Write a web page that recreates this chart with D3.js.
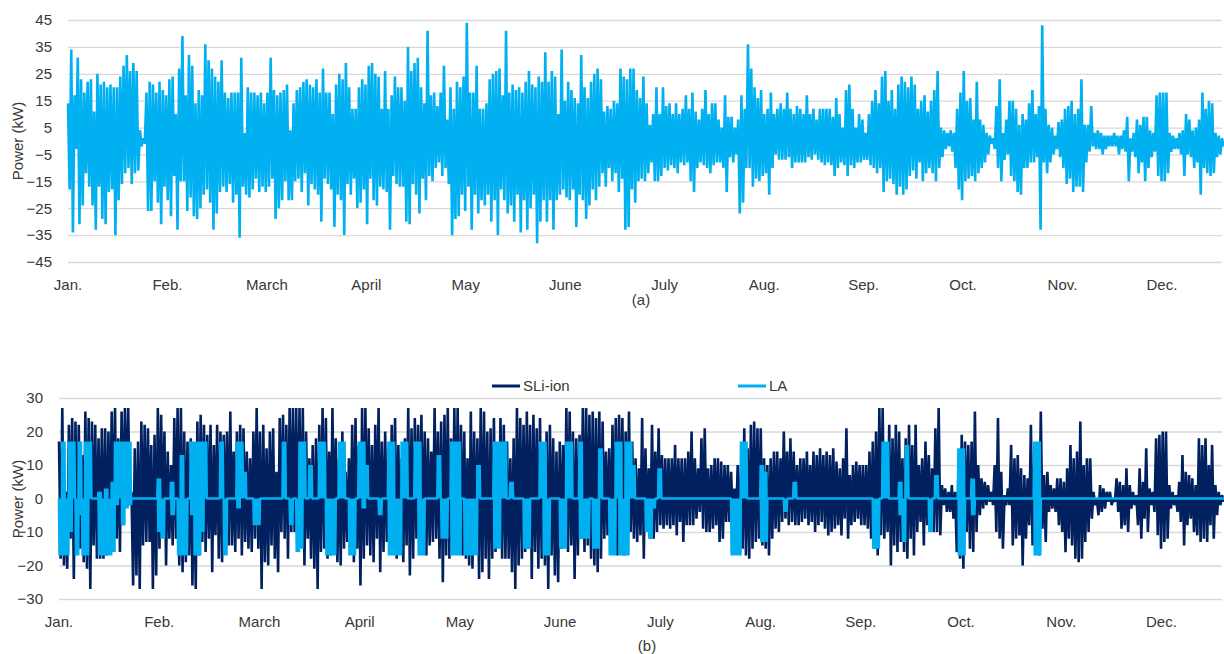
<!DOCTYPE html>
<html>
<head>
<meta charset="utf-8">
<script src="https://cdn.jsdelivr.net/npm/d3@7/dist/d3.min.js"></script>
<style>
body{margin:0;background:#fff;}
svg text{font-family:"Liberation Sans",Arial,sans-serif;fill:#383838;font-size:15px;}
</style>
</head>
<body>
<svg id="chart" width="1224" height="654"></svg>
<script>
var months = ["Jan.","Feb.","March","April","May","June","July","Aug.","Sep.","Oct.","Nov.","Dec."];
var ticksA = [-45,-35,-25,-15,-5,5,15,25,35,45];
var ticksB = [-30,-20,-10,0,10,20,30];

// (a) daily max / min of the battery power, kW (one value per day)
var topHi = [
 14,34,17,31,23,18,22,23,11,25, 21,22,20,21,20,20,24,28,32,26, 29,26,4,1,18,22,21,18,22,19,
 17,23,24,10,27,39,17,32,28,14, 19,17,36,30,27,24,22,30,18,16, 18,18,18,31,3,20,18,18,17,18,
 14,18,31,19,17,18,19,21,4,14, 19,20,22,23,21,20,23,18,27,18, 18,10,21,25,23,29,20,12,12,20,
 23,21,28,29,25,24,12,26,12,17, 24,20,20,15,35,26,29,31,20,14, 41,17,18,13,18,28,8,20,12,22,
 20,24,44,18,18,28,12,12,14,23, 25,26,27,17,41,18,21,19,20,18, 22,26,21,20,24,22,33,22,26,24,
 10,34,15,22,19,16,14,32,20,16, 22,25,27,23,11,13,12,15,14,27, 24,23,27,27,19,16,24,14,6,10,
 20,10,20,13,14,10,14,10,12,17, 12,18,11,8,12,19,10,14,14,8, 5,17,9,9,5,8,17,12,36,27,
 20,16,19,10,12,18,10,12,14,12, 18,12,10,13,12,10,17,10,12,8, 12,12,12,12,9,16,10,5,19,21,
 12,5,10,8,3,10,15,19,14,24, 26,15,19,12,21,24,22,20,24,21, 12,15,17,11,15,19,26,5,4,3,
 4,3,12,18,26,15,16,8,22,8, 6,3,2,1,13,23,3,8,15,15, 12,6,10,8,14,19,10,13,43,12,
 6,5,2,7,8,12,13,15,10,12, 23,6,6,13,3,4,3,2,2,2, 3,2,2,4,9,1,3,8,6,9,
 9,4,3,17,18,18,18,3,2,1, 3,4,10,8,4,5,8,18,12,15, 14,3,2,1
];
var topLo = [
 -18,-34,-3,-31,-24,-12,-17,-24,-33,-17, -29,-31,-19,-18,-35,-22,-16,-12,-10,-16, -12,-11,-2,-1,-26,-26,-15,-23,-31,-17,
 -22,-28,-13,-33,-15,-15,-26,-21,-28,-29, -25,-20,-18,-23,-33,-27,-19,-17,-19,-16, -23,-20,-36,-17,-20,-21,-18,-14,-19,-17,
 -19,-17,-14,-29,-25,-22,-15,-22,-22,-15, -14,-19,-12,-24,-16,-18,-20,-30,-14,-16, -18,-32,-20,-22,-35,-16,-20,-14,-25,-23,
 -18,-31,-14,-22,-24,-17,-18,-19,-33,-13, -16,-17,-17,-30,-31,-16,-20,-27,-14,-22, -13,-15,-10,-8,-13,-10,-16,-35,-29,-28,
 -20,-26,-17,-33,-20,-27,-22,-24,-20,-30, -22,-35,-18,-22,-27,-24,-30,-20,-34,-22, -33,-25,-20,-38,-30,-22,-30,-22,-33,-22,
 -20,-18,-21,-22,-18,-32,-20,-22,-29,-24, -18,-22,-17,-12,-17,-10,-15,-12,-19,-14, -33,-32,-18,-23,-15,-14,-15,-12,-8,-15,
 -15,-13,-10,-11,-9,-10,-12,-8,-9,-8, -15,-19,-10,-8,-9,-10,-12,-9,-8,-8, -10,-19,-6,-8,-5,-27,-23,-10,-10,-17,
 -14,-15,-13,-12,-20,-10,-5,-7,-7,-7, -6,-10,-8,-8,-8,-8,-6,-7,-5,-7, -8,-9,-8,-9,-13,-10,-8,-9,-13,-9,
 -10,-8,-8,-7,-7,-9,-10,-12,-10,-19, -15,-14,-16,-20,-17,-20,-18,-13,-11,-14, -8,-15,-12,-10,-12,-15,-10,-6,-3,-2,
 -4,-10,-18,-22,-15,-14,-13,-15,-12,-10, -8,-5,-1,-3,-10,-15,-7,-5,-13,-15, -19,-20,-10,-10,-8,-8,-6,-33,-8,-12,
 -8,-5,-3,-6,-10,-16,-14,-19,-17,-17, -19,-8,-4,-2,-3,-3,-5,-3,-2,-2, -2,-5,-3,-4,-15,-4,-6,-12,-8,-15,
 -10,-6,-4,-13,-15,-15,-12,-4,-3,-3, -5,-13,-5,-6,-10,-8,-20,-10,-12,-13, -12,-6,-5,-2
];

// (b) SLi-ion daily max / min, kW
var sliHi = [
 17,27,2,22,24,23,22,13,26,24, 23,22,18,21,21,20,26,27,18,26, 27,27,2,15,17,23,22,21,16,19,
 27,25,20,14,10,24,27,27,20,17, 18,12,23,25,22,19,22,16,22,20, 19,20,26,14,20,22,21,14,12,20,
 27,20,22,15,20,21,8,24,25,22, 27,27,27,27,27,20,12,16,18,22, 27,24,14,27,18,12,20,8,12,22,
 24,16,27,27,21,16,22,27,17,20, 15,22,24,16,12,18,27,21,24,22, 25,20,18,14,27,20,23,25,27,18,
 27,27,22,20,12,26,20,18,27,26, 20,21,24,13,24,22,17,12,18,27, 24,22,26,22,25,21,24,16,20,22,
 18,14,17,16,27,26,20,18,19,27, 27,25,26,24,26,
 23,14,15,22,24,25,24,20,26,17, 12,9,24,15,9,22,14,21,13,12, 12,12,16,12,12,12,14,20,12,9,
 18,21,9,10,12,12,11,10,10,8, 3,10,10,21,15,22,23,21,21,12, 10,12,14,14,12,20,14,18,14,10,
 12,12,14,10,14,13,15,13,14,13, 15,11,9,12,21,7,10,11,10,10, 10,14,17,20,27,27,10,22,18,22, 20,
 12,18,22,16,22,10,12,17,13,9, 21,27,4,3,2,4,2,8,19,17, 16,17,26,10,6,5,4,2,10,24,
 8,1,3,16,12,13,9,7,6,22, 10,5,26,7,8,4,3,6,6,5, 9,16,12,14,23,10,12,12,2,0,
 4,3,2,2,0,6,5,4,9,4, 2,1,9,5,15,3,2,18,19,20, 20,4,2,1,5,13,8,7,6,4, 18,16,18,10,16,4,2,1
];
var sliLo = [
 -18,-20,-21,-12,-24,-13,-15,-19,-21,-27, -14,-18,-18,-18,-17,-11,-10,-12,-16,-8, -2,-2,-26,-23,-27,-14,-13,-13,-27,-23,
 -15,-10,-20,-12,-14,-12,-20,-22,-19,-17, -26,-27,-17,-13,-16,-12,-22,-11,-18,-19, -10,-14,-14,-16,-12,-17,-13,-15,-16,-12,
 -15,-27,-19,-20,-14,-18,-22,-10,-12,-18, -10,-10,-14,-14,-20,-12,-18,-21,-27,-16, -15,-18,-17,-15,-19,-20,-15,-13,-12,-19,
 -15,-26,-18,-14,-17,-19,-12,-22,-16,-13, -14,-12,-18,-15,-19,-14,-23,-18,-12,-14, -15,-17,-14,-13,-12,-18,-25,-17,-18,-14,
 -15,-16,-17,-18,-20,-21,-16,-24,-22,-18, -24,-18,-16,-12,-18,-18,-18,-22,-27,-20, -18,-16,-15,-24,-16,-21,-18,-20,-27,-17,
 -23,-25,-15,-12,-16,-14,-24,-17,-12,-16, -14,-18,-20,-22,-18,
 -12,-11,-15,-14,-17,-13,-17,-12,-10,-12, -13,-11,-18,-10,-12,-12,-10,-8,-9,-8, -9,-8,-11,-7,-13,-8,-8,-8,-6,-4,
 -9,-10,-10,-9,-8,-13,-12,-7,-7,-6, -8,-13,-15,-17,-18,-15,-13,-12,-14,-15, -17,-12,-9,-10,-7,-6,-8,-7,-8,-8,
 -7,-6,-8,-7,-10,-8,-7,-9,-11,-10, -9,-8,-11,-6,-12,-8,-7,-6,-8,-8, -9,-12,-15,-17,-11,-12,-10,-20,-14,-16, -13,
 -16,-18,-12,-17,-10,-7,-14,-8,-10,-10, -10,-11,-2,-4,-4,-6,-16,-18,-21,-10, -15,-16,-10,-5,-3,-2,-1,-2,-10,-12,
 -15,-2,-2,-14,-12,-11,-20,-12,-8,-14, -14,-17,-9,-13,-4,-3,-4,-8,-10,-16, -12,-14,-18,-19,-18,-13,-10,-6,-2,-5,
 -4,-3,-1,-2,-1,-4,-9,-8,-10,-3, -2,-8,-12,-6,-10,-2,-4,-11,-15,-13, -12,-3,-2,-4,-7,-14,-8,-6,-10,-11, -13,-12,-13,-8,-12,-5,-2,-1
];

// (b) LA: days when it is not idle [day, max, min], kW; every other day sits at 0
var laDays = [
 [0,0,-17],[1,17,-17],[2,0,-17],[3,17,-10],[4,17,0],[5,0,-17],[6,17,-5],[7,0,-17],[8,17,-17],[9,17,0],
 [12,2,-17],[13,0,-17],[14,3,-17],[15,0,-17],[16,5,-16],[17,17,-2],[18,17,0],[19,17,-8],[20,17,-3],[21,17,-2],
 [30,6,-10],[31,0,-12],[34,5,-5],[36,0,-17],[37,13,-17],[38,0,-17],[40,17,-5],[41,17,-17],[42,17,-17],[43,17,-10],[44,17,0],
 [49,17,0],[50,0,-17],[54,17,-3],[55,17,0],[56,8,0],[59,0,-8],[60,0,-8],[68,17,0],[70,0,-8],[72,0,-16],[73,17,-15],
 [74,17,0],[76,10,0],[79,17,0],[80,17,0],[81,0,-17],[82,0,-17],[83,0,-17],[85,17,0],[86,17,0],[88,0,-17],[89,0,-17],
 [91,17,0],[92,17,-3],[93,10,0],[97,0,-5],[100,17,-17],[101,17,-17],[102,0,-17],[103,0,-17],[104,17,0],[105,17,0],
 [108,17,0],[109,17,-17],[110,0,-17],[115,13,0],[116,0,-12],[117,0,-12],[119,17,-17],[120,17,-17],[121,17,-17],
 [123,0,-17],[124,0,-17],[125,0,-17],[126,0,-17],[127,10,0],[132,17,-15],[133,17,-15],[134,17,0],[135,17,0],[137,5,0],
 [141,0,-15],[142,0,-15],[146,17,0],[147,17,-17],[148,0,-17],[152,0,-15],[153,0,-15],[154,17,0],[155,17,0],
 [158,17,-12],[159,0,-12],[160,0,-12],[162,0,-15],[163,0,-15],[164,15,0],[167,0,-17],[168,0,-17],
 [169,17,0],[170,17,-17],[171,0,-17],[172,17,-17],[173,17,0],[174,10,0],[178,0,-10],[179,0,-12],[180,0,-3],[182,9,0],
 [204,0,-17],[205,0,-17],[206,0,-17],[207,17,0],[208,17,0],[213,10,-13],[214,8,-13],[220,0,-4],[223,5,0],
 [247,0,-15],[248,0,-15],[250,17,0],[251,17,0],[255,5,-5],[256,0,-13],[257,16,0],[264,0,-10],[266,7,0],
 [273,15,-17],[274,15,-17],[277,6,-5],[296,17,-17],[297,17,-17]
];

var lastDay = 353, dayPerMonth = 30.42;
var lightBlue = "#00b0f0", navy = "#002060", gridColor = "#d9d9d9";

var svg = d3.select("#chart");

// each day becomes up/down strokes between its max and min, like the dense hourly trace
function zigzag(hi, lo, reps){
    var pts = [];
    for(var i = 0; i < hi.length; i++){
        for(var k = 0; k < reps; k++){
            pts.push([i + k / reps, hi[i]]);
            pts.push([i + (k + 0.5) / reps, lo[i]]);
        }
    }
    return pts;
}

function panel(x, y, ticks, labelY, titleY){
    var g = svg.append("g");
    g.append("g")
        .attr("transform", "translate(" + x.range()[0] + ",0)")
        .call(d3.axisLeft(y).tickValues(ticks).tickSize(-(1222 - x.range()[0])).tickPadding(16))
        .call(function(a){
            a.select(".domain").remove();
            a.selectAll("line").attr("stroke", gridColor).attr("stroke-width", 1.3);
            a.selectAll("text").attr("fill", "#383838").style("font-size", "15px")
                .style("font-family", '"Liberation Sans", Arial, sans-serif');
        });
    g.selectAll(".mlab").data(months).enter().append("text")
        .attr("x", function(d, i){ return x(i * dayPerMonth); })
        .attr("y", labelY)
        .attr("text-anchor", "middle")
        .text(function(d){ return d; });
    g.append("text")
        .attr("transform", "translate(18," + titleY + ") rotate(-90)")
        .attr("text-anchor", "middle")
        .attr("dy", "0.35em")
        .text("Power (kW)");
    return g;
}

function trace(g, x, y, pts, color){
    var line = d3.line().x(function(p){ return x(p[0]); }).y(function(p){ return y(p[1]); });
    g.append("path")
        .attr("d", line(pts))
        .attr("fill", "none")
        .attr("stroke", color)
        .attr("stroke-width", 2.6)
        .attr("stroke-linejoin", "bevel");
}

// ---- (a)
var xA = d3.scaleLinear().domain([0, lastDay]).range([68, 1222]);
var yA = d3.scaleLinear().domain([-45, 45]).range([262, 20]);
var gA = panel(xA, yA, ticksA, 290, 141);
trace(gA, xA, yA, zigzag(topHi, topLo, 1), lightBlue);
svg.append("text").attr("x", 641).attr("y", 305).attr("text-anchor", "middle").text("(a)");

// ---- (b)
var xB = d3.scaleLinear().domain([0, lastDay]).range([59, 1222]);
var yB = d3.scaleLinear().domain([-30, 30]).range([599, 398]);
var gB = panel(xB, yB, ticksB, 627, 499);
trace(gB, xB, yB, zigzag(sliHi, sliLo, 1), navy);

var laHi = sliHi.map(function(){ return 0; });
var laLo = sliHi.map(function(){ return 0; });
laDays.forEach(function(r){ laHi[r[0]] = r[1]; laLo[r[0]] = r[2]; });
trace(gB, xB, yB, zigzag(laHi, laLo, 3), lightBlue);

svg.append("text").attr("x", 647).attr("y", 651).attr("text-anchor", "middle").text("(b)");

// legend
var legend = [{name: "SLi-ion", color: navy, x: 492}, {name: "LA", color: lightBlue, x: 738}];
var lg = svg.selectAll(".leg").data(legend).enter().append("g")
    .attr("transform", function(d){ return "translate(" + d.x + ",386)"; });
lg.append("line").attr("x1", 0).attr("x2", 28).attr("stroke", function(d){ return d.color; }).attr("stroke-width", 3);
lg.append("text").attr("x", 31).attr("dy", "0.35em").text(function(d){ return d.name; });
</script>
</body>
</html>
